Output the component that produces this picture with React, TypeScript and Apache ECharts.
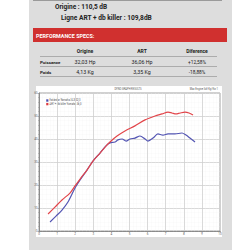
import React, { useEffect, useRef } from "react";
import * as echarts from "echarts";

const xTicks = [0, 1, 2, 3, 4, 5, 6, 7, 8, 9, 10];
const yTicks = [0, 10, 20, 30, 40, 50, 60];

const artX = [0.5, 0.88, 1.27, 1.71, 1.99, 2.27, 2.65, 2.98, 3.37, 3.65, 3.92, 4.31, 4.75, 5.3, 5.86, 6.41, 6.8, 7.13, 7.35, 7.57, 7.79, 8.07, 8.29, 8.51];
const artY = [7.4, 10.4, 13.5, 16.5, 19.6, 22.6, 26.5, 30.4, 33.9, 36.5, 38.7, 41.3, 43.5, 45.7, 48.3, 50.0, 50.9, 51.7, 51.3, 50.9, 51.3, 51.7, 51.3, 50.4];

const origX = [0.61, 0.94, 1.27, 1.6, 1.99, 2.27, 2.65, 2.98, 3.37, 3.7, 3.92, 4.2, 4.36, 4.59, 4.81, 5.03, 5.3, 5.58, 5.86, 6.02, 6.3, 6.57, 6.85, 7.13, 7.51, 7.9, 8.12, 8.34, 8.62];
const origY = [3.9, 6.5, 9.1, 12.6, 18.7, 22.2, 26.5, 30.4, 33.9, 37.0, 38.3, 38.7, 39.6, 40.0, 39.1, 40.0, 40.4, 41.3, 40.0, 39.1, 40.4, 42.2, 41.7, 42.2, 42.2, 42.6, 41.7, 40.4, 38.7];

const headers = ["Origine", "ART", "Diference"];
const rowLabels = ["Puissance", "Poids"];
const origineVals = ["32,03 Hp", "4,13 Kg"];
const artVals = ["36,06 Hp", "3,35 Kg"];
const diffVals = ["+12,58%", "-18,88%"];

const legendNames = ["Estándar Yamaha SLX 32,0", "ART + db killer Yamaha 36,0"];

export default function App() {
  const ref = useRef<HTMLDivElement>(null);
  useEffect(() => {
    if (!ref.current) return;
    const chart = echarts.init(ref.current, null, { renderer: "svg" });
    const font = "Roboto, 'Noto Sans', sans-serif";
    const colX = [85, 142, 197];
    const rowY = [62, 72];
    const graphic: any[] = [
      { type: "rect", silent: true, z: -10, shape: { x: 29, y: 0, width: 203, height: 250 }, style: { fill: "#dddddd" } },
      { type: "line", z: -9, shape: { x1: 33, y1: 0.5, x2: 222, y2: 0.5 }, style: { stroke: "#9a9a9a", lineWidth: 1 } },
      { type: "text", x: 55, y: 7, style: { text: "Origine : 110,5 dB", font: `bold 6.5px ${font}`, fill: "#222", verticalAlign: "middle" } },
      { type: "text", x: 61, y: 18, style: { text: "Ligne ART + db killer : 109,8dB", font: `bold 6.6px ${font}`, fill: "#222", verticalAlign: "middle" } },
      { type: "rect", z: -9, shape: { x: 33, y: 28, width: 194, height: 14 }, style: { fill: "#d0302f" } },
      { type: "text", x: 36, y: 35.5, style: { text: "PERFORMANCE SPECS:", font: `bold 5.4px ${font}`, fill: "#fff", verticalAlign: "middle" } },
      { type: "rect", z: -9, shape: { x: 36, y: 86, width: 186, height: 151 }, style: { fill: "#ffffff" } },
      { type: "text", x: 128, y: 90, style: { text: "DYNO GRAPH RESULTS", font: `2.6px ${font}`, fill: "#555", align: "center", verticalAlign: "middle" } },
      { type: "text", x: 218, y: 89.5, style: { text: "Max Engine Sdf Kg/Kw 1", font: `2.6px ${font}`, fill: "#555", align: "right", verticalAlign: "middle" } },
    ];
    [56.5, 66.5, 76.5].forEach((y) => {
      graphic.push({ type: "line", z: -8, shape: { x1: 40, y1: y, x2: 217, y2: y }, style: { stroke: "#a0a0a0", lineWidth: 0.8 } });
    });
    headers.forEach((h, i) => {
      graphic.push({ type: "text", x: colX[i], y: 51, style: { text: h, font: `bold 5px ${font}`, fill: "#222", align: "center", verticalAlign: "middle" } });
    });
    rowLabels.forEach((r, i) => {
      graphic.push({ type: "text", x: 40, y: rowY[i], style: { text: r, font: `bold 4.4px ${font}`, fill: "#222", verticalAlign: "middle" } });
      graphic.push({ type: "text", x: colX[0], y: rowY[i], style: { text: origineVals[i], font: `5.3px ${font}`, fill: "#222", align: "center", verticalAlign: "middle" } });
      graphic.push({ type: "text", x: colX[1], y: rowY[i], style: { text: artVals[i], font: `5.3px ${font}`, fill: "#222", align: "center", verticalAlign: "middle" } });
      graphic.push({ type: "text", x: colX[2], y: rowY[i], style: { text: diffVals[i], font: `4.8px ${font}`, fill: "#222", align: "center", verticalAlign: "middle" } });
    });
    const legColors = ["#4b4fb0", "#e0393e"];
    legendNames.forEach((n, i) => {
      const y = 100.5 + i * 3.6;
      graphic.push({ type: "rect", shape: { x: 46, y: y - 1.2, width: 2.4, height: 2.4 }, style: { fill: legColors[i] } });
      graphic.push({ type: "text", x: 49.5, y, style: { text: n, font: `2.6px ${font}`, fill: "#444", verticalAlign: "middle" } });
    });

    const axisCommon = {
      type: "value" as const,
      axisLine: { show: true, lineStyle: { color: "#8a8a8a", width: 1 } },
      axisTick: { show: true, length: 1.5, lineStyle: { color: "#8a8a8a", width: 0.6 } },
      minorTick: { show: true, splitNumber: 5, length: 1, lineStyle: { color: "#999", width: 0.5 } },
      splitLine: { show: true, lineStyle: { color: "#cfcfcf", width: 0.8 } },
      minorSplitLine: { show: true, lineStyle: { color: "#f0f0f0", width: 0.5, type: "dotted" } },
      axisLabel: { fontSize: 3, color: "#666", margin: 1.5, fontFamily: font },
    };

    chart.setOption({
      animation: false,
      graphic,
      grid: { left: 39, top: 93, width: 181, height: 138, show: true, borderColor: "#8a8a8a", borderWidth: 0.8, backgroundColor: "transparent" },
      xAxis: {
        ...axisCommon,
        min: xTicks[0],
        max: xTicks[xTicks.length - 1],
        interval: 1,
      },
      yAxis: {
        ...axisCommon,
        min: yTicks[0],
        max: yTicks[yTicks.length - 1],
        interval: 10,
      },
      series: [
        {
          type: "line",
          name: legendNames[0],
          data: origX.map((x, i) => [x, origY[i]]),
          showSymbol: false,
          smooth: 0.3,
          lineStyle: { color: "#5355b3", width: 1.2 },
          z: 3,
        },
        {
          type: "line",
          name: legendNames[1],
          data: artX.map((x, i) => [x, artY[i]]),
          showSymbol: false,
          smooth: 0.3,
          lineStyle: { color: "#e2454a", width: 1.2 },
          z: 4,
        },
      ],
    });
    return () => chart.dispose();
  }, []);
  return <div ref={ref} style={{ position: "fixed", left: 0, top: 0, width: 250, height: 250, background: "#fff" }} />;
}
